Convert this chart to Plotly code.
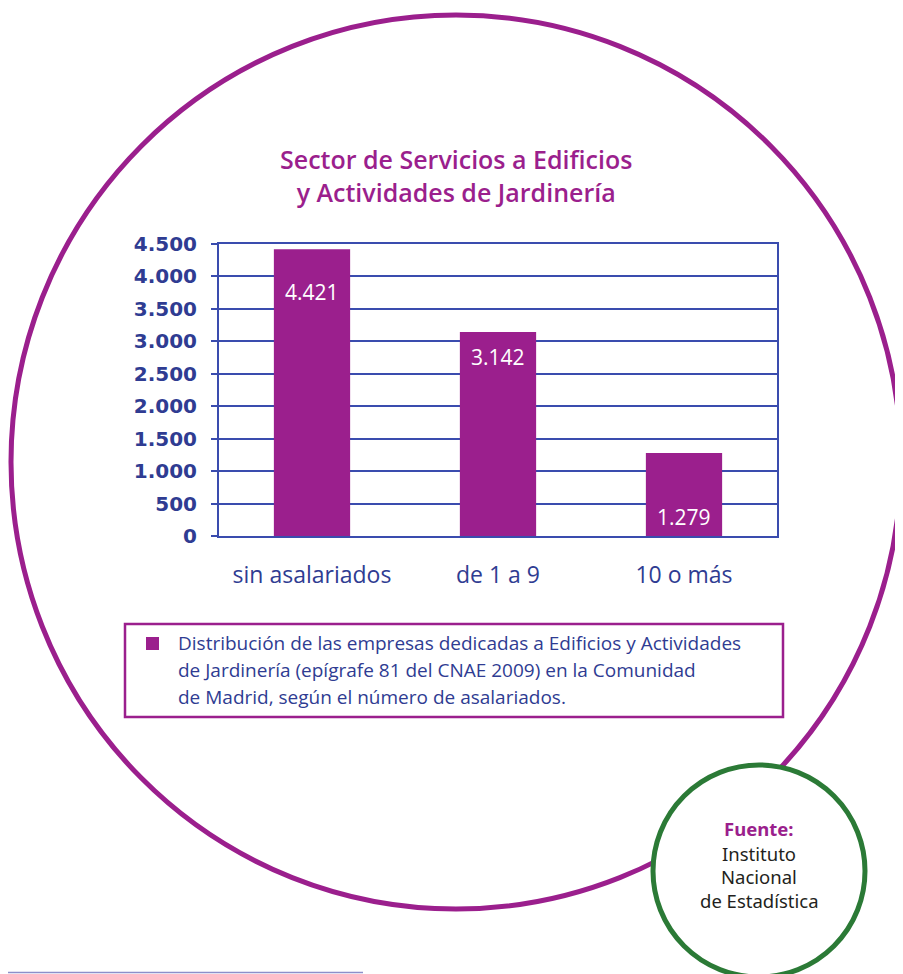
import plotly.graph_objects as go

# ---- data ----
categories = ["sin asalariados", "de 1 a 9", "10 o más"]
values = [4421, 3142, 1279]
y_tick_vals = [0, 500, 1000, 1500, 2000, 2500, 3000, 3500, 4000, 4500]
title_lines = ["Sector de Servicios a Edificios", "y Actividades de Jardinería"]
legend_lines = [
    "Distribución de las empresas dedicadas a Edificios y Actividades",
    "de Jardinería (epígrafe 81 del CNAE 2009) en la Comunidad",
    "de Madrid, según el número de asalariados.",
]
source_title = "Fuente:"
source_lines = ["Instituto", "Nacional", "de Estadística"]

# label offsets below bar top (pixels), as placed in the original
label_offsets_px = [43, 25, 64]

# ---- layout geometry (screen pixels; page body has an 8px margin) ----
OFF = 8
WIN_W, WIN_H = 903, 974
W_FIG, H_FIG = WIN_W - OFF, WIN_H - OFF
L, R, T, B = 219, 777, 244, 536
PW, PH = R - L, B - T


def px(x):
    return (x - L) / PW


def py(y):
    return (B - y) / PH


PURPLE = "#9b1f8d"
BLUE = "#3a4cae"
TXT_BLUE = "#2f3c92"
GREEN = "#2b7a36"

fig = go.Figure()
fig.add_trace(go.Bar(
    x=categories, y=values, marker=dict(color=PURPLE, line=dict(width=0)),
    showlegend=False, hoverinfo="skip",
))

annotations = []
for c, v, off in zip(categories, values, label_offsets_px):
    annotations.append(dict(
        x=c, y=v, xref="x", yref="y", yshift=-off, yanchor="middle",
        text=f"{v:,}".replace(",", "."), showarrow=False,
        font=dict(family="Open Sans", size=21, color="white", weight=500),
    ))

# title (two lines in one text block)
annotations.append(dict(
    x=px(456), y=py(175), xref="paper", yref="paper",
    text="<br>".join(title_lines), showarrow=False,
    xanchor="center", yanchor="middle", align="center",
    font=dict(family="Open Sans", size=25, color=PURPLE, weight=600),
))

# legend text
for i, line in enumerate(legend_lines):
    annotations.append(dict(
        x=px(176), y=py(643 + 27 * i), xref="paper", yref="paper",
        text=line, showarrow=False, xanchor="left", yanchor="middle",
        font=dict(family="Open Sans", size=19, color=TXT_BLUE),
    ))

# source text
annotations.append(dict(
    x=px(759), y=py(828), xref="paper", yref="paper", text=f"<b>{source_title}</b>",
    showarrow=False, xanchor="center", yanchor="middle",
    font=dict(family="Noto Sans", size=18.5, color=PURPLE),
))
for i, line in enumerate(source_lines):
    annotations.append(dict(
        x=px(759), y=py(853 + 23.5 * i), xref="paper", yref="paper", text=line,
        showarrow=False, xanchor="center", yanchor="middle",
        font=dict(family="Noto Sans", size=18.5, color="#231f20"),
    ))

shapes = [
    # big purple circle
    dict(type="circle", xref="paper", yref="paper",
         x0=px(456 - 445), x1=px(456 + 445), y0=py(462 + 447), y1=py(462 - 447),
         line=dict(color=PURPLE, width=5), fillcolor="rgba(0,0,0,0)", layer="below"),
    # legend box
    dict(type="rect", xref="paper", yref="paper",
         x0=px(125), x1=px(783), y0=py(717), y1=py(624),
         line=dict(color=PURPLE, width=2.5), fillcolor="rgba(0,0,0,0)"),
    # legend marker
    dict(type="rect", xref="paper", yref="paper",
         x0=px(146), x1=px(159), y0=py(650), y1=py(637),
         line=dict(width=0), fillcolor=PURPLE),
    # green source circle (white fill covers the purple circle)
    dict(type="circle", xref="paper", yref="paper",
         x0=px(759 - 106), x1=px(759 + 106), y0=py(871 + 106), y1=py(871 - 106),
         line=dict(color=GREEN, width=5), fillcolor="white"),
    # bottom rule
    dict(type="line", xref="paper", yref="paper",
         x0=px(8), x1=px(363), y0=py(972.5), y1=py(972.5),
         line=dict(color="#8d8fca", width=1.5)),
]

fig.update_layout(
    width=W_FIG, height=H_FIG,
    margin=dict(l=L - OFF, r=WIN_W - R, t=T - OFF, b=WIN_H - B, pad=0),
    paper_bgcolor="white", plot_bgcolor="white",
    separators=",.",
    bargap=0.59,
    showlegend=False,
    annotations=annotations,
    shapes=shapes,
)
fig.update_yaxes(
    range=[0, 4500], tickvals=y_tick_vals, tickformat=",d",
    showgrid=True, gridcolor=BLUE, gridwidth=2,
    showline=True, linecolor=BLUE, linewidth=2, mirror=True,
    ticks="outside", ticklen=6, tickcolor=BLUE, tickwidth=2,
    ticklabelstandoff=10, zeroline=False,
    tickfont=dict(family="DejaVu Sans", size=20, color=TXT_BLUE, weight="bold"),
)
fig.update_xaxes(
    showline=True, linecolor=BLUE, linewidth=2, mirror=True,
    ticks="", ticklabelstandoff=17,
    tickfont=dict(family="Open Sans", size=23, color=TXT_BLUE),
)

fig.write_html("out.html")
